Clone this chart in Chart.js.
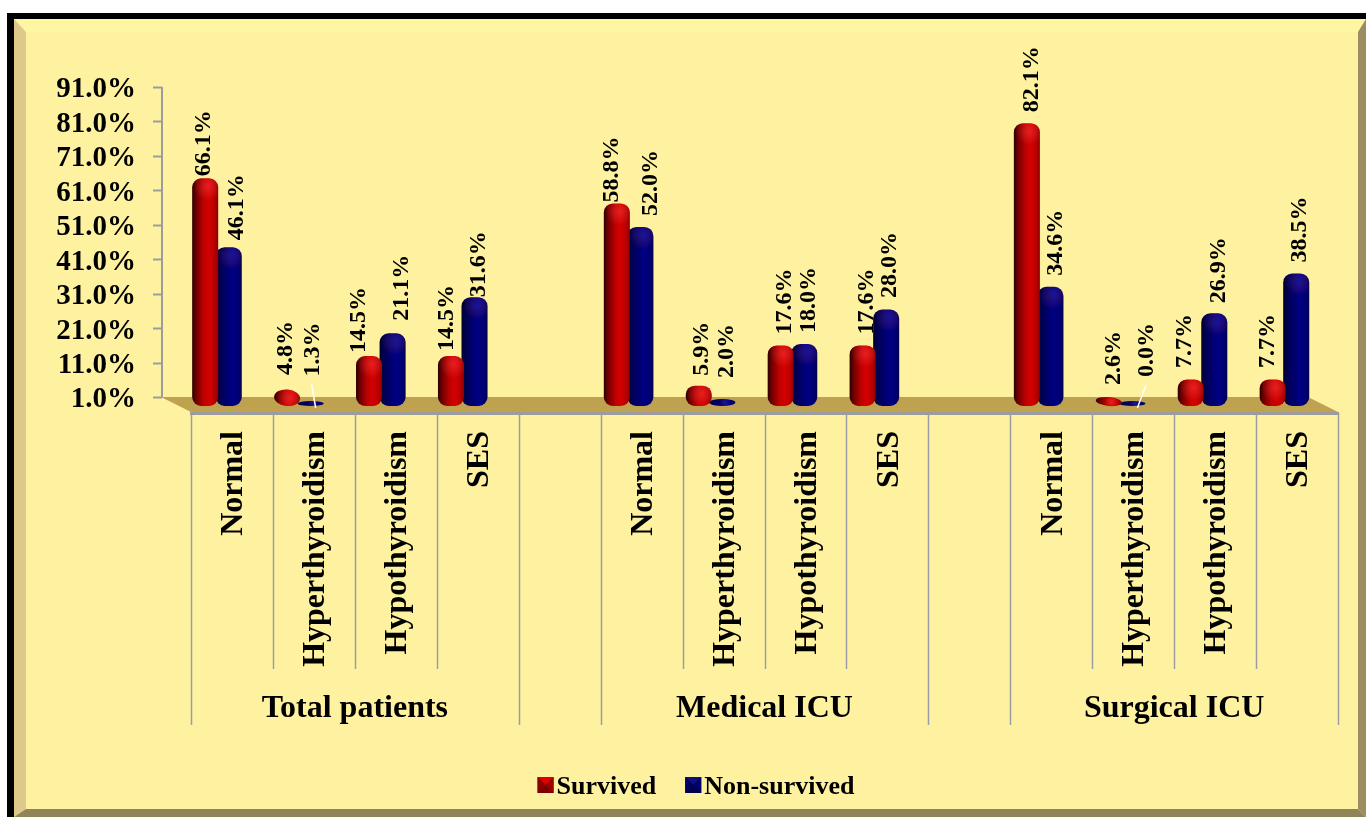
<!DOCTYPE html>
<html>
<head>
<meta charset="utf-8">
<title>Thyroid status by ICU outcome</title>
<script src="https://cdn.jsdelivr.net/npm/chart.js@4"></script>
<style>
  html, body { margin: 0; padding: 0; background: #fff; }
  canvas { display: block; }
</style>
</head>
<body>
<canvas id="thyroidChart" width="1366" height="817"></canvas>
<script>
const categories = [
  'Normal', 'Hyperthyroidism', 'Hypothyroidism', 'SES', '',
  'Normal', 'Hyperthyroidism', 'Hypothyroidism', 'SES', '',
  'Normal', 'Hyperthyroidism', 'Hypothyroidism', 'SES'
];
const groupLabels = ['Total patients', 'Medical ICU', 'Surgical ICU'];
const tickValues = [1, 11, 21, 31, 41, 51, 61, 71, 81, 91];
const survived = [66.1, 4.8, 14.5, 14.5, null, 58.8, 5.9, 17.6, 17.6, null, 82.1, 2.6, 7.7, 7.7];
const nonSurvived = [46.1, 1.3, 21.1, 31.6, null, 52.0, 2.0, 18.0, 28.0, null, 34.6, 0.0, 26.9, 38.5];

// Hand placement of the rotated value labels: sideways offset and gap above the bar
const labelDx = [
  [-1, -1, -10, -4, 0, -5, 3, 4, 4, 0, 5, 5, -5.5, -4.5],
  [8.5, 2, 9.5, 4.5, 0, 10, 4.5, 5, 4, 0, 5.5, 14.6, 5, 4]
];
const labelGap = [
  [2, 14.5, 3, 5, 0, 1, 10, 11, 11, 0, 11, 12, 11.5, 11.5],
  [7, 24.5, 12.5, 0, 0, 11, 21, 11, 11.5, 0, 11, 24, 10, 11]
];
// Labels far enough from their bar to need a leader line: [dataset, index]
const leaders = [[1, 1], [1, 11]];

const SERIF = '"Liberation Serif", "Times New Roman", serif';
const FLOOR_DEPTH = 30;
const FLOOR_COLOR = '#bfa24f';
const AXIS_COLOR = '#9c9c9c';
const SHADES = [
  {
    stops: ['#2a0000', '#6e0000', '#c00000', '#d40000', '#b40000', '#8a0000'],
    glow: 'rgba(255, 70, 70, 0.45)',
    swatch: ['#e00000', '#a00000', '#7a0000', '#8c0000']
  },
  {
    stops: ['#00002a', '#000050', '#000072', '#000084', '#000070', '#000050'],
    glow: 'rgba(70, 70, 210, 0.3)',
    swatch: ['#10107e', '#000068', '#000050', '#00005c']
  }
];

// Bars stand mid-way across the floor, so they sit left of the front-edge categories
function barShift(index) {
  if (index < 5) return 15;
  return index < 10 ? 13 : 12.6;
}

function barTop(el) {
  return Math.min(el.y, el.base - 5);
}

function traceBar(ctx, left, top, w, h) {
  const flat = h < 20;
  const rx = flat ? w / 2 : 9;
  const ry = Math.min(h / 2, 9);
  const right = left + w;
  const bottom = top + h;
  ctx.beginPath();
  ctx.moveTo(left + rx, top);
  ctx.lineTo(right - rx, top);
  ctx.ellipse(right - rx, top + ry, rx, ry, 0, -Math.PI / 2, 0);
  ctx.lineTo(right, bottom - ry);
  ctx.ellipse(right - rx, bottom - ry, rx, ry, 0, 0, Math.PI / 2);
  ctx.lineTo(left + rx, bottom);
  ctx.ellipse(left + rx, bottom - ry, rx, ry, 0, Math.PI / 2, Math.PI);
  ctx.lineTo(left, top + ry);
  ctx.ellipse(left + rx, top + ry, rx, ry, 0, Math.PI, Math.PI * 1.5);
  ctx.closePath();
}

function drawBar(ctx, el, index, shade) {
  const w = el.width;
  const left = el.x - w / 2 - barShift(index);
  const top = barTop(el);
  const h = el.base - top;
  const cx = left + w / 2;

  ctx.save();
  // Short bars squash into a slightly tipped pill
  if (h >= 8 && h < 20) {
    ctx.translate(cx, top + h / 2);
    ctx.rotate(0.09);
    ctx.translate(-cx, -(top + h / 2));
  }
  traceBar(ctx, left, top, w, h);
  const fill = ctx.createLinearGradient(left, 0, left + w, 0);
  [0, 0.15, 0.45, 0.65, 0.88, 1].forEach((at, i) => fill.addColorStop(at, shade.stops[i]));
  ctx.fillStyle = fill;
  ctx.fill();
  ctx.clip();

  const gx = left + w * 0.6;
  const gy = top + Math.min(h / 2, 8);
  const glow = ctx.createRadialGradient(gx, gy, 0, gx, gy, Math.min(14, Math.max(h * 0.8, 5)));
  glow.addColorStop(0, shade.glow);
  glow.addColorStop(1, 'rgba(255, 70, 70, 0)');
  ctx.fillStyle = glow;
  ctx.fillRect(left, top, w, h);
  ctx.restore();
}

function drawFrame(ctx, width, height) {
  ctx.fillStyle = '#fef2a0';
  ctx.fillRect(14, 19, width - 14, height - 19);

  ctx.fillStyle = '#fff6a4';
  ctx.beginPath();
  ctx.moveTo(14, 19); ctx.lineTo(width, 19); ctx.lineTo(1358, 32); ctx.lineTo(26, 32);
  ctx.fill();

  ctx.fillStyle = '#dfc98a';
  ctx.beginPath();
  ctx.moveTo(14, 19); ctx.lineTo(26, 32); ctx.lineTo(26, 809); ctx.lineTo(14, height);
  ctx.fill();

  ctx.fillStyle = '#9c8c60';
  ctx.beginPath();
  ctx.moveTo(width, 19); ctx.lineTo(1358, 32); ctx.lineTo(1358, 809); ctx.lineTo(width, height);
  ctx.fill();

  ctx.fillStyle = '#8f8558';
  ctx.beginPath();
  ctx.moveTo(14, height); ctx.lineTo(26, 809); ctx.lineTo(1358, 809); ctx.lineTo(width, height);
  ctx.fill();

  ctx.fillStyle = '#000';
  ctx.fillRect(7, 13, width - 7, 6);
  ctx.fillRect(7, 13, 7, height - 13);
}

function drawFloor(ctx, chart) {
  const { x, y } = chart.scales;
  const back = y.getPixelForValue(1);
  const front = chart.chartArea.bottom;
  ctx.fillStyle = FLOOR_COLOR;
  ctx.beginPath();
  ctx.moveTo(x.left - FLOOR_DEPTH, back);
  ctx.lineTo(x.right - FLOOR_DEPTH, back);
  ctx.lineTo(x.right, front);
  ctx.lineTo(x.left, front);
  ctx.closePath();
  ctx.fill();

  // Value axis runs along the back wall
  const axisX = x.left - FLOOR_DEPTH;
  ctx.strokeStyle = AXIS_COLOR;
  ctx.lineWidth = 2;
  ctx.beginPath();
  ctx.moveTo(axisX + 1, y.getPixelForValue(tickValues[tickValues.length - 1]));
  ctx.lineTo(axisX + 1, back);
  tickValues.forEach((v) => {
    const py = Math.round(y.getPixelForValue(v)) + 0.5;
    ctx.moveTo(axisX - 8, py);
    ctx.lineTo(axisX + 1, py);
  });
  ctx.stroke();

  ctx.lineWidth = 3;
  ctx.beginPath();
  ctx.moveTo(x.left - 1, front + 1.5);
  ctx.lineTo(x.right + 1, front + 1.5);
  ctx.stroke();
}

function drawCategorySeparators(ctx, chart) {
  const { x } = chart.scales;
  const front = chart.chartArea.bottom;
  ctx.strokeStyle = '#9c9ca8';
  ctx.lineWidth = 1.5;
  for (let i = 0; i <= categories.length; i++) {
    // Group edges drop past the category names, down beside the group titles
    const atGroupEdge = i % 5 === 0 || i % 5 === 4;
    const px = Math.round(x.getPixelForValue(i - 0.5)) + 0.5;
    ctx.beginPath();
    ctx.moveTo(px, front + 1);
    ctx.lineTo(px, atGroupEdge ? 725 : 669);
    ctx.stroke();
  }
}

function drawGroupTitles(ctx, chart) {
  const { x } = chart.scales;
  ctx.fillStyle = '#000';
  ctx.font = 'bold 32px ' + SERIF;
  ctx.textAlign = 'center';
  ctx.textBaseline = 'middle';
  groupLabels.forEach((label, g) => {
    ctx.fillText(label, x.getPixelForValue(g * 5 + 1.5), 709);
  });
}

function drawValueLabels(ctx, chart) {
  ctx.font = 'bold 24px ' + SERIF;
  ctx.fillStyle = '#000';
  ctx.textAlign = 'left';
  ctx.textBaseline = 'middle';
  chart.data.datasets.forEach((dataset, d) => {
    chart.getDatasetMeta(d).data.forEach((el, i) => {
      if (dataset.data[i] === null) return;
      const px = el.x - barShift(i) + labelDx[d][i];
      const py = barTop(el) - labelGap[d][i];
      ctx.save();
      ctx.translate(px, py);
      ctx.rotate(-Math.PI / 2);
      ctx.fillText(dataset.data[i].toFixed(1) + '%', 0, 0);
      ctx.restore();
    });
  });

  ctx.strokeStyle = '#fff';
  ctx.lineWidth = 1.5;
  leaders.forEach(([d, i]) => {
    const el = chart.getDatasetMeta(d).data[i];
    const px = el.x - barShift(i);
    const labelBottom = barTop(el) - labelGap[d][i];
    ctx.beginPath();
    ctx.moveTo(px + labelDx[d][i] - 1, labelBottom + 8);
    ctx.lineTo(px + 5, el.base + 2);
    ctx.stroke();
  });
}

function drawSwatch(ctx, left, top, size, colors) {
  const cx = left + size / 2;
  const cy = top + size / 2;
  const corners = [
    [left, top], [left + size, top], [left + size, top + size], [left, top + size]
  ];
  // Solid backing hides the seams between the four bevel faces
  ctx.fillStyle = colors[1];
  ctx.fillRect(left, top, size, size);
  corners.forEach((corner, i) => {
    const next = corners[(i + 1) % 4];
    ctx.fillStyle = colors[i];
    ctx.beginPath();
    ctx.moveTo(corner[0], corner[1]);
    ctx.lineTo(next[0], next[1]);
    ctx.lineTo(cx, cy);
    ctx.closePath();
    ctx.fill();
  });
}

function drawKey(ctx, chart) {
  const size = 16;
  const textGap = 3;
  const itemGap = 29;
  const keyY = 787;
  ctx.font = 'bold 26px ' + SERIF;
  ctx.textAlign = 'left';
  ctx.textBaseline = 'middle';
  const names = chart.data.datasets.map((dataset) => dataset.label);
  const widths = names.map((name) => ctx.measureText(name).width);
  const total = widths.reduce((sum, w) => sum + size + textGap + w, 0) + itemGap;
  let cursor = 696 - total / 2;
  names.forEach((name, i) => {
    drawSwatch(ctx, cursor, keyY - size / 2 - 2, size, SHADES[i].swatch);
    ctx.fillStyle = '#000';
    ctx.fillText(name, cursor + size + textGap, keyY);
    cursor += size + textGap + widths[i] + itemGap;
  });
}

const cylinderPlugin = {
  id: 'cylinderBars',
  beforeDraw(chart) {
    drawFrame(chart.ctx, chart.width, chart.height);
  },
  beforeDatasetsDraw(chart) {
    drawFloor(chart.ctx, chart);
    drawCategorySeparators(chart.ctx, chart);
  },
  beforeDatasetDraw(chart, args) {
    args.meta.data.forEach((el, i) => {
      if (chart.data.datasets[args.index].data[i] !== null) {
        drawBar(chart.ctx, el, i, SHADES[args.index]);
      }
    });
    return false;
  },
  afterDatasetsDraw(chart) {
    drawValueLabels(chart.ctx, chart);
    drawGroupTitles(chart.ctx, chart);
    drawKey(chart.ctx, chart);
  }
};

new Chart(document.getElementById('thyroidChart'), {
  type: 'bar',
  plugins: [cylinderPlugin],
  data: {
    labels: categories,
    datasets: [
      { label: 'Survived', data: survived, backgroundColor: '#c00000', yAxisID: 'yBars', base: 0 },
      { label: 'Non-survived', data: nonSurvived, backgroundColor: '#000080', yAxisID: 'yBars', base: 0 }
    ]
  },
  options: {
    responsive: false,
    animation: false,
    barPercentage: 1.106,
    categoryPercentage: 0.575,
    layout: { padding: { top: 87, right: 28, bottom: 0, left: 0 } },
    plugins: {
      legend: { display: false },
      tooltip: { enabled: false }
    },
    scales: {
      x: {
        type: 'category',
        grid: { display: false },
        border: { display: false },
        ticks: {
          autoSkip: false,
          minRotation: 90,
          maxRotation: 90,
          padding: 11,
          labelOffset: 2,
          color: '#000',
          font: { family: SERIF, size: 32, weight: 'bold' }
        },
        afterFit(scale) { scale.height = 405; }
      },
      y: {
        type: 'linear',
        position: 'left',
        min: -3.355,
        max: 91,
        grid: { display: false },
        border: { display: false },
        afterBuildTicks(scale) {
          scale.ticks = tickValues.map((value) => ({ value }));
        },
        ticks: {
          autoSkip: false,
          padding: 47,
          labelOffset: 3,
          color: '#000',
          font: { family: SERIF, size: 29, weight: 'bold' },
          callback: (value) => value.toFixed(1) + '%'
        },
        afterFit(scale) { scale.width = 191; }
      },
      // Same units as y, measured from the middle of the floor where the bars stand
      yBars: {
        type: 'linear',
        display: false,
        min: -1.742,
        max: 92.62
      }
    }
  }
});
</script>
</body>
</html>
